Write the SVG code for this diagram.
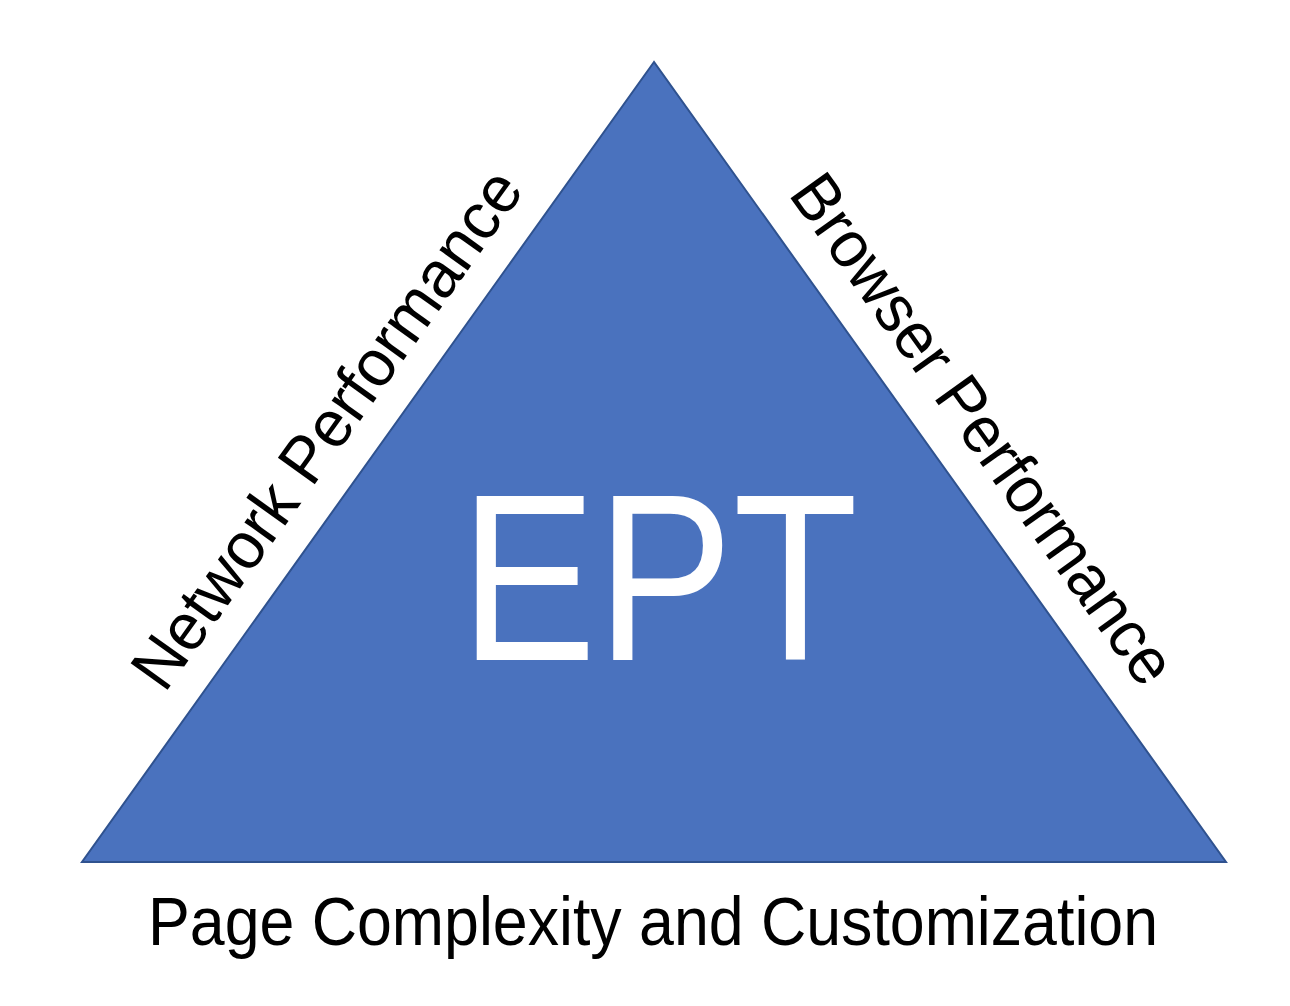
<svg xmlns="http://www.w3.org/2000/svg" width="1290" height="1006" viewBox="0 0 1290 1006">
<style>
.t{font-family:"Liberation Sans","Open Sans",sans-serif;fill:#000;}
</style>
<rect width="1290" height="1006" fill="#fff"/>
<g id="triangle">
<polygon points="654,62 82,862 1226,862" fill="#4A72BE" stroke="#2F528F" stroke-width="2"/>
<text class="t" x="659" y="660" font-size="238" fill="#fff" style="fill:#fff" text-anchor="middle" textLength="398" lengthAdjust="spacingAndGlyphs">EPT</text>
</g>
<g id="left-label">
<text class="t" transform="translate(345,442) rotate(-54.4)" font-size="66" text-anchor="middle" textLength="620" lengthAdjust="spacingAndGlyphs">Network Performance</text>
</g>
<g id="right-label">
<text class="t" transform="translate(965,442) rotate(54.4)" font-size="66" text-anchor="middle" textLength="610" lengthAdjust="spacingAndGlyphs">Browser Performance</text>
</g>
<g id="bottom-label">
<text class="t" x="653" y="945" font-size="68" text-anchor="middle" textLength="1010" lengthAdjust="spacingAndGlyphs">Page Complexity and Customization</text>
</g>
</svg>
